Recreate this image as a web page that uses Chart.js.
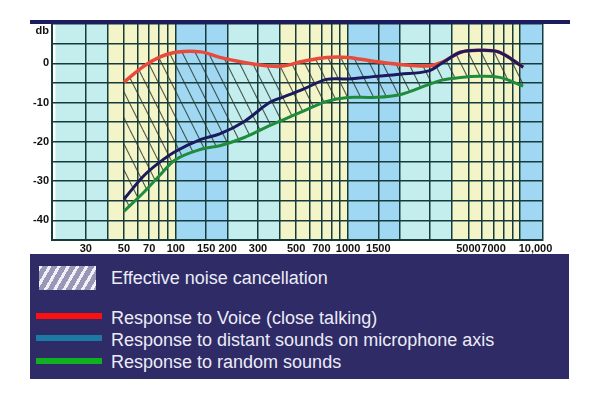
<!DOCTYPE html>
<html>
<head>
<meta charset="utf-8">
<script src="https://cdn.jsdelivr.net/npm/chart.js@4"></script>
<style>
  body { margin: 0; background: #fff; }
  #wrap { position: relative; width: 600px; height: 400px; }
  #topbar { position: absolute; left: 30px; top: 20px; width: 540px; height: 4px; background: #1c1c5c; }
  #legend { position: absolute; left: 30px; top: 254px; width: 539px; height: 125px; background: #2e2b66;
            font-family: "Liberation Sans", Arial, sans-serif; font-size: 18px; line-height: 18px; color: #ececf8; }
  #legend .swatch { position: absolute; left: 9px; top: 12px; width: 57px; height: 24px;
            background: repeating-linear-gradient(120deg, #f0f0f8 0 3px, #9898b6 3px 8px); }
  #legend .bar { position: absolute; left: 6px; width: 66px; height: 6px; }
  #legend .txt { position: absolute; left: 81px; white-space: nowrap; }
</style>
</head>
<body>
<div id="wrap">
  <canvas id="chart"></canvas>
  <div id="topbar"></div>
  <div id="legend"></div>
</div>
<script>
// frequency (Hz) of each sampled point on the curves
const freqs = [50, 65, 80, 100, 140, 180, 250, 350, 420, 550, 750, 1000, 1400, 2000, 2900, 3500, 4500, 5800, 7600, 10400];
// response in dB
const voiceDb   = [-4.8, -0.8, 1.5, 2.8, 2.9, 1.5, 0.2, -0.7, -0.7, 0.5, 1.5, 1.5, 0.5, -0.3, -0.7, 0.2, 2.8, 3.3, 2.8, -1];
const distantDb = [-34.6, -28.7, -25.3, -22.4, -19.4, -18, -14.8, -10, -8.6, -6.6, -4.1, -4, -3.4, -2.8, -2, 0, 2.8, 3.3, 2.8, -1];
const randomDb  = [-37.7, -32.9, -28.7, -24.5, -21.9, -21, -18.9, -15.9, -14.4, -12.2, -9.7, -8.7, -8.7, -8, -5.5, -4.3, -3.6, -3.3, -3.6, -5.8];

const seriesNames = [
  "Response to Voice (close talking)",
  "Response to distant sounds on microphone axis",
  "Response to random sounds"
];
const hatchName = "Effective noise cancellation";
const lineColors = ["#e84a3c", "#1a1a5c", "#1f8c3c"];
const legendColors = ["#ff1010", "#1c7aa4", "#10b020"];

// x axis: vertical grid lines and labelled ticks
const xMin = 19.1, xMax = 13560;
const gridFreqs = [30, 40, 50, 60, 70, 80, 90, 100, 150, 200, 300, 400, 500, 600, 700, 800, 900,
                   1000, 1500, 2000, 3000, 4000, 5000, 6000, 7000, 8000, 9000, 10000];
const labelFreqs = [30, 50, 70, 100, 150, 200, 300, 500, 700, 1000, 1500, 5000, 7000, 10000];
const freqLabels = ["30", "50", "70", "100", "150", "200", "300", "500", "700", "1000", "1500", "5000", "7000", "          10,000"];

// coloured background bands per decade
const bandEdges = [20, 40, 100, 200, 400, 1000, 2000, 4000, 10000, 20000];
const bandColors = ["#c4eeee", "#f3f5c9", "#a0d8f3", "#c4eeee", "#f3f5c9", "#a0d8f3", "#c4eeee", "#f3f5c9", "#a0d8f3"];

function hatch() {
  const c = document.createElement("canvas");
  c.width = 13; c.height = 26;
  const g = c.getContext("2d");
  g.strokeStyle = "rgba(40,52,40,0.8)";
  g.lineWidth = 1.1;
  [-13, 0, 13].forEach(o => {
    g.beginPath(); g.moveTo(o, 0); g.lineTo(o + 13, 26); g.stroke();
  });
  return g.createPattern(c, "repeat");
}

const bands = {
  id: "bands",
  beforeDraw(chart) {
    const { ctx, chartArea: a, scales: { x } } = chart;
    ctx.save();
    for (let i = 0; i < bandColors.length; i++) {
      const l = Math.max(a.left, x.getPixelForValue(bandEdges[i]));
      const r = Math.min(a.right, x.getPixelForValue(bandEdges[i + 1]));
      if (r <= l) continue;
      ctx.fillStyle = bandColors[i];
      ctx.fillRect(l, a.top, r - l, a.bottom - a.top);
    }
    ctx.restore();
  }
};

const pts = arr => freqs.map((f, i) => ({ x: f, y: arr[i] }));

new Chart(document.getElementById("chart"), {
  type: "line",
  data: {
    datasets: [
      { label: seriesNames[0], data: pts(voiceDb), borderColor: lineColors[0], borderWidth: 3.5,
        fill: 2, backgroundColor: hatch(), order: 3 },
      { label: seriesNames[1], data: pts(distantDb), borderColor: lineColors[1], borderWidth: 3, fill: false, order: 2 },
      { label: seriesNames[2], data: pts(randomDb), borderColor: lineColors[2], borderWidth: 3, fill: false, order: 1 }
    ]
  },
  options: {
    responsive: true,
    maintainAspectRatio: false,
    animation: false,
    layout: { padding: { left: 0, top: 24, right: 57, bottom: 144 } },
    elements: { point: { radius: 0 }, line: { tension: 0.35 } },
    plugins: { legend: { display: false }, tooltip: { enabled: false } },
    scales: {
      x: {
        type: "logarithmic",
        min: xMin, max: xMax,
        afterBuildTicks: s => { s.ticks = [xMin, ...gridFreqs, xMax].map(v => ({ value: v })); },
        afterFit: s => { s.height = 16; },
        grid: { color: "#173a3a", lineWidth: 1.5, drawTicks: false },
        border: { color: "#173a3a", width: 2 },
        ticks: {
          autoSkip: false, maxRotation: 0, minRotation: 0, padding: 2,
          color: "#111", font: { family: "Liberation Sans", size: 11, weight: "bold" },
          callback: v => { const i = labelFreqs.indexOf(v); return i < 0 ? "" : freqLabels[i]; }
        }
      },
      y: {
        min: -45, max: 10,
        afterFit: s => { s.width = 52; },
        grid: { color: "#173a3a", lineWidth: 1.5, drawTicks: false },
        border: { color: "#173a3a", width: 2 },
        ticks: {
          stepSize: 5, padding: 3, autoSkip: false,
          color: "#111", font: { family: "Liberation Sans", size: 11, weight: "bold" },
          callback: v => v === 10 ? ["", "db"] : (v % 10 === 0 ? String(v) : "")
        }
      }
    }
  },
  plugins: [bands]
});

// legend panel
const lg = document.getElementById("legend");
lg.innerHTML = '<div class="swatch"></div><div class="txt" style="top:15px">' + hatchName + '</div>';
const barTops = [59, 81, 104];
const txtTops = [55, 77, 99];
seriesNames.forEach((n, i) => {
  lg.innerHTML += '<div class="bar" style="top:' + barTops[i] + 'px;background:' + legendColors[i] + '"></div>' +
                  '<div class="txt" style="top:' + txtTops[i] + 'px">' + n + '</div>';
});
</script>
</body>
</html>
